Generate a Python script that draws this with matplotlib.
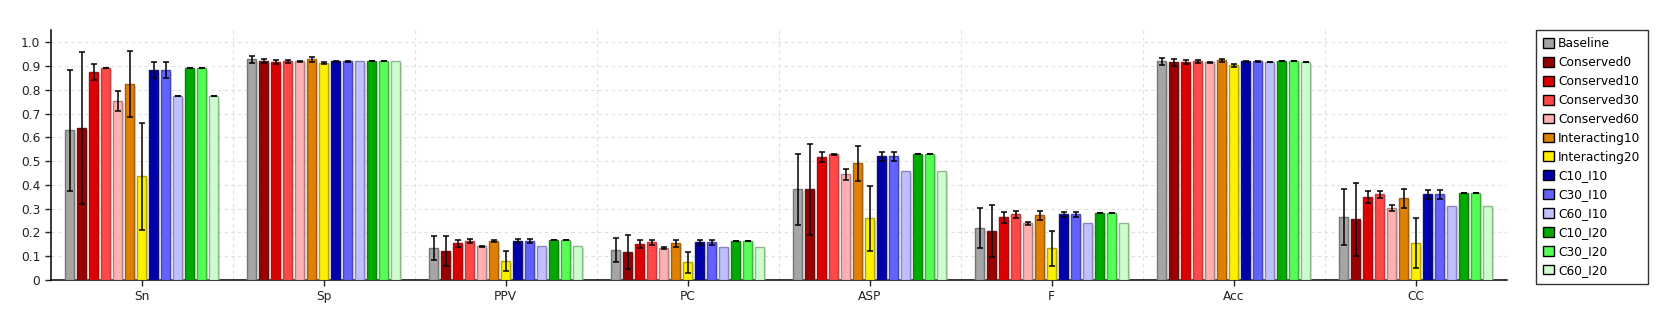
import numpy as np
import matplotlib
matplotlib.use("Agg")
import matplotlib.pyplot as plt
import matplotlib.patheffects as pe

metrics = ["Sn", "Sp", "PPV", "PC", "ASP", "F", "Acc", "CC"]

series = ["Baseline", "Conserved0", "Conserved10", "Conserved30", "Conserved60",
          "Interacting10", "Interacting20", "C10_I10", "C30_I10", "C60_I10",
          "C10_I20", "C30_I20", "C60_I20"]

# one row per series, one column per metric
means = [
    [0.630, 0.928, 0.135, 0.126, 0.381, 0.217, 0.920, 0.264],
    [0.640, 0.920, 0.122, 0.118, 0.381, 0.206, 0.916, 0.255],
    [0.875, 0.916, 0.154, 0.151, 0.516, 0.264, 0.916, 0.348],
    [0.891, 0.920, 0.164, 0.158, 0.529, 0.276, 0.920, 0.360],
    [0.752, 0.920, 0.142, 0.135, 0.445, 0.238, 0.916, 0.302],
    [0.823, 0.928, 0.164, 0.154, 0.491, 0.272, 0.924, 0.344],
    [0.436, 0.912, 0.079, 0.074, 0.259, 0.133, 0.903, 0.154],
    [0.882, 0.921, 0.164, 0.158, 0.520, 0.276, 0.920, 0.360],
    [0.882, 0.921, 0.164, 0.158, 0.520, 0.276, 0.920, 0.360],
    [0.773, 0.920, 0.142, 0.137, 0.457, 0.238, 0.916, 0.310],
    [0.891, 0.920, 0.168, 0.164, 0.529, 0.281, 0.920, 0.365],
    [0.891, 0.920, 0.168, 0.164, 0.529, 0.281, 0.920, 0.365],
    [0.773, 0.920, 0.142, 0.137, 0.457, 0.238, 0.916, 0.310],
]

nan = np.nan
errors = [
    [0.255, 0.013, 0.050, 0.050, 0.149, 0.084, 0.015, 0.118],
    [0.320, 0.008, 0.065, 0.070, 0.190, 0.109, 0.014, 0.153],
    [0.032, 0.008, 0.016, 0.017, 0.021, 0.023, 0.008, 0.025],
    [0.000, 0.006, 0.008, 0.010, 0.003, 0.013, 0.006, 0.013],
    [0.042, 0.003, 0.002, 0.004, 0.023, 0.005, 0.002, 0.013],
    [0.139, 0.010, 0.005, 0.015, 0.073, 0.018, 0.008, 0.039],
    [0.226, 0.004, 0.043, 0.044, 0.137, 0.074, 0.008, 0.105],
    [0.034, 0.002, 0.008, 0.009, 0.018, 0.012, 0.003, 0.019],
    [0.034, 0.002, 0.008, 0.009, 0.018, 0.012, 0.003, 0.019],
    [0.000, nan, nan, nan, nan, nan, 0.000, nan],
    [0.000, 0.000, 0.000, 0.000, 0.000, 0.000, 0.000, 0.000],
    [0.000, 0.000, 0.000, 0.000, 0.000, 0.000, 0.000, 0.000],
    [0.000, nan, nan, nan, nan, nan, 0.000, nan],
]

colors = ["#a5a5a5", "#990000", "#dd0000", "#ff4848", "#ffb0b0", "#e08000",
          "#fff000", "#0000aa", "#6262ff", "#c0c0ff", "#00aa00", "#55ff55",
          "#ccffcc"]
edges = ["#777777", "#6a1010", "#a01010", "#b84040", "#b08080", "#a06010",
         "#b0a800", "#101070", "#4848b0", "#8888b8", "#108010", "#40b040",
         "#90b890"]

fig = plt.figure(figsize=(16.66, 3.34), dpi=100)
ax = fig.add_axes([50.7 / 1666, 1 - 280 / 334, 1456 / 1666, 250 / 334])

x = np.arange(len(metrics)) + 0.5
pitch = 12 / 182
width = 8.7 / 182

shadow = [pe.SimplePatchShadow(offset=(1.4, -1.4), shadow_rgbFace="#999999", alpha=0.35),
          pe.Normal()]

for i, name in enumerate(series):
    xs = x + (i - 6) * pitch
    ax.bar(xs, means[i], width, color=colors[i], edgecolor=edges[i],
           linewidth=1.0, label=name, zorder=3, path_effects=shadow)
    ax.errorbar(xs, means[i], yerr=errors[i], fmt="none", ecolor="black",
                elinewidth=1.1, capsize=2.4, capthick=1.1, zorder=4)

ax.set_xlim(0, len(metrics))
ax.set_ylim(0, 1.052)
ax.set_yticks(np.arange(0, 1.01, 0.1))
ax.set_yticklabels(["0"] + ["%.1f" % v for v in np.arange(0.1, 1.01, 0.1)])
ax.set_xticks(x)
ax.set_xticklabels(metrics)
ax.set_xticks(np.arange(1, len(metrics)), minor=True)
ax.tick_params(axis="x", which="minor", length=0)
ax.tick_params(axis="both", which="major", labelsize=8.8, length=4, width=1,
               colors="#222222")
ax.tick_params(axis="x", which="major", pad=3)

ax.yaxis.grid(True, color="#e0e0e0", linestyle=(0, (3, 3)), linewidth=0.8, zorder=0)
ax.xaxis.grid(True, which="minor", color="#e0e0e0", linestyle=(0, (3, 3)),
              linewidth=0.8, zorder=0)
ax.set_axisbelow(True)

for side in ["top", "right"]:
    ax.spines[side].set_visible(False)
for side in ["left", "bottom"]:
    ax.spines[side].set_linewidth(1.1)

leg = ax.legend(loc="upper left", bbox_to_anchor=(1536 / 1666, 1 - 30 / 334),
                bbox_transform=fig.transFigure, fontsize=8.8, frameon=True,
                fancybox=False, edgecolor="black", handlelength=0.85,
                handleheight=0.85, handletextpad=0.35, labelspacing=0.48,
                borderpad=0.6, borderaxespad=0)
leg.get_frame().set_linewidth(1.0)
for h in leg.legend_handles:
    h.set_path_effects([])
    h.set_edgecolor("black")

fig.savefig("out.png", dpi=100)
